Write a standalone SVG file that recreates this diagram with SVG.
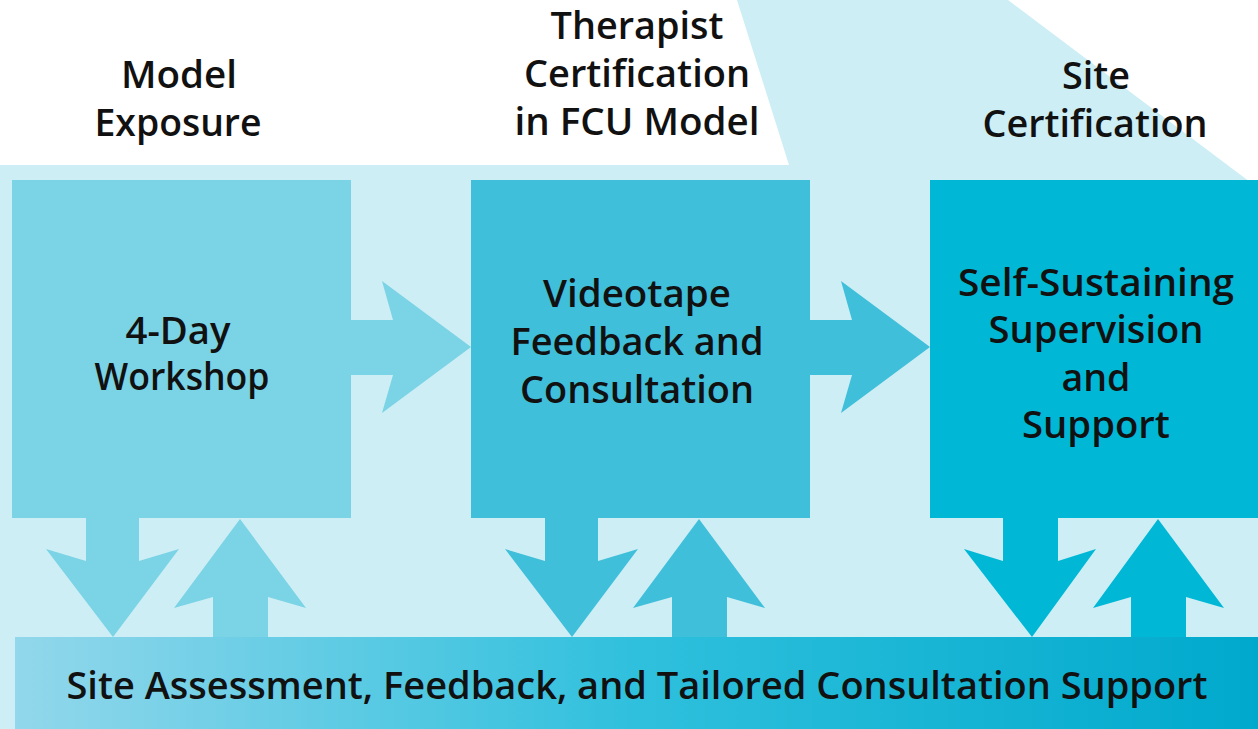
<svg xmlns="http://www.w3.org/2000/svg" width="1258" height="729" viewBox="0 0 1258 729">
  <defs>
    <linearGradient id="barGrad" x1="0" y1="0" x2="1" y2="0">
      <stop offset="0" stop-color="#92d7eb"/>
      <stop offset="0.5" stop-color="#2fc0dd"/>
      <stop offset="1" stop-color="#00a9cc"/>
    </linearGradient>
  </defs>
  <style>
    text { font-family: "Open Sans", "Noto Sans", "Liberation Sans", sans-serif; font-weight: 600; font-size: 37px; fill: #111111; text-anchor: middle; }
    .c1 { fill: #7bd3e6; }
    .c2 { fill: #40bfda; }
    .c3 { fill: #00b8d6; }
  </style>
  <rect x="0" y="0" width="1258" height="729" fill="#ffffff"/>
  <polygon points="0,165 789,165 737,0 1008,0 1258,188 1258,729 0,729" fill="#cdeef5"/>

  <g id="headings">
    <text x="179" y="88" textLength="116" lengthAdjust="spacingAndGlyphs">Model</text>
    <text x="178" y="136" textLength="167" lengthAdjust="spacingAndGlyphs">Exposure</text>
    <text x="637" y="39" textLength="173" lengthAdjust="spacingAndGlyphs">Therapist</text>
    <text x="637" y="87" textLength="226" lengthAdjust="spacingAndGlyphs">Certification</text>
    <text x="637" y="135" textLength="245" lengthAdjust="spacingAndGlyphs">in FCU Model</text>
    <text x="1096" y="89" textLength="68" lengthAdjust="spacingAndGlyphs">Site</text>
    <text x="1095" y="137" textLength="225" lengthAdjust="spacingAndGlyphs">Certification</text>
  </g>

  <g id="connectors">
    <polygon class="c1" points="351,320 393,320 382,281 471,347 382,413 393,375 351,375"/>
    <polygon class="c2" points="810,320 852,320 841,281 930,347 841,413 852,375 810,375"/>
    <polygon class="c1" points="86,518 139,518 139,561 179,549 113,637 46,549 86,561"/>
    <polygon class="c1" points="213,637 213,597 174,608 240,519 306,608 268,597 268,637"/>
    <polygon class="c2" points="545,518 598,518 598,561 638,549 572,637 505,549 545,561"/>
    <polygon class="c2" points="672,637 672,597 633,608 699,519 765,608 727,597 727,637"/>
    <polygon class="c3" points="1003,518 1058,518 1058,561 1096,549 1032,637 964,549 1003,561"/>
    <polygon class="c3" points="1131,637 1131,597 1093,608 1158,519 1224,608 1186,597 1186,637"/>
  </g>

  <g id="workshop">
    <rect class="c1" x="12" y="180" width="339" height="338"/>
    <text x="178" y="344" textLength="105" lengthAdjust="spacingAndGlyphs">4-Day</text>
    <text x="182" y="390" textLength="175" lengthAdjust="spacingAndGlyphs">Workshop</text>
  </g>

  <g id="videotape">
    <rect class="c2" x="471" y="180" width="339" height="338"/>
    <text x="637" y="307" textLength="188" lengthAdjust="spacingAndGlyphs">Videotape</text>
    <text x="637" y="355" textLength="253" lengthAdjust="spacingAndGlyphs">Feedback and</text>
    <text x="637" y="403" textLength="234" lengthAdjust="spacingAndGlyphs">Consultation</text>
  </g>

  <g id="selfsustaining">
    <rect class="c3" x="930" y="180" width="328" height="338"/>
    <text x="1096" y="296" textLength="276" lengthAdjust="spacingAndGlyphs">Self-Sustaining</text>
    <text x="1096" y="343" textLength="215" lengthAdjust="spacingAndGlyphs">Supervision</text>
    <text x="1096" y="391" textLength="69" lengthAdjust="spacingAndGlyphs">and</text>
    <text x="1096" y="438" textLength="148" lengthAdjust="spacingAndGlyphs">Support</text>
  </g>

  <g id="siteassessment">
    <rect x="15" y="637" width="1243" height="92" fill="url(#barGrad)"/>
    <text x="637" y="699" textLength="1141" lengthAdjust="spacingAndGlyphs">Site Assessment, Feedback, and Tailored Consultation Support</text>
  </g>
</svg>
